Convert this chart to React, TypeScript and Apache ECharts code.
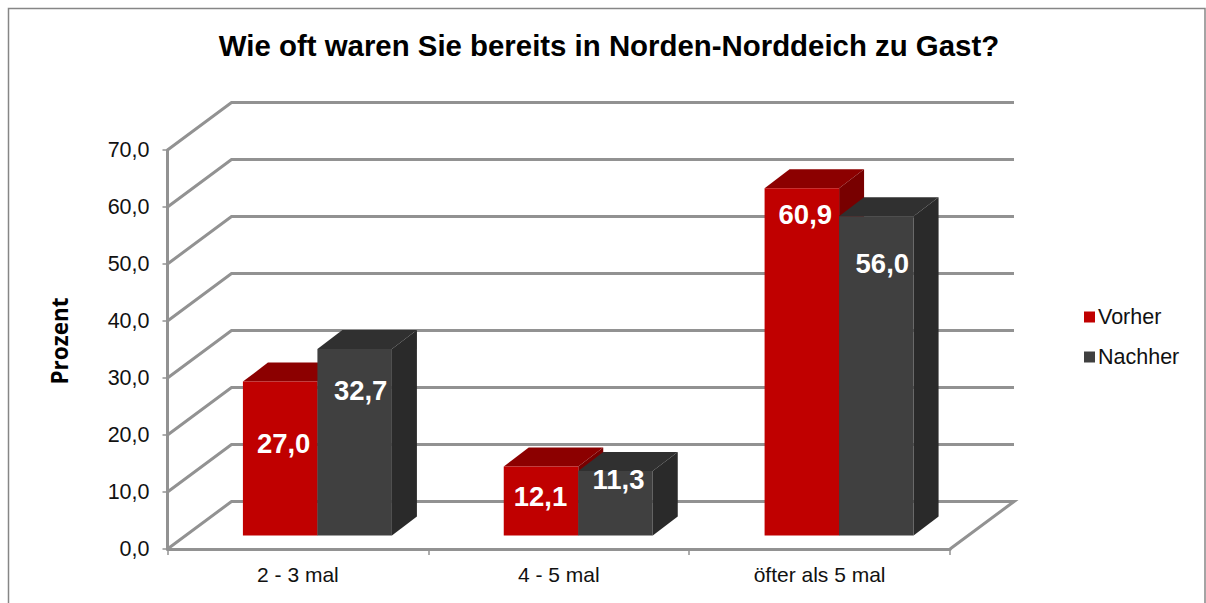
import React, { useEffect, useRef } from "react";
import * as echarts from "echarts";

const categories = ["2 - 3 mal", "4 - 5 mal", "öfter als 5 mal"];
const vorher = [27.0, 12.1, 60.9];
const nachher = [32.7, 11.3, 56.0];
const gridValues = [0, 10, 20, 30, 40, 50, 60, 70];

const vorherLabelOffset = [[3.5, 62], [-0.5, 30], [3.5, 26]];
const nachherLabelOffset = [[6, 41], [3, 8], [6, 47]];

const WALL = { dx: 64, dy: -47.5 };
const BAR_BASE = { dx: 19.5, dy: -13.5 };
const BAR_DEPTH = { dx: 25, dy: -19 };
const BAR_W = 74.5;
const GRID_COLOR = "#929292";
const fmt = (v: number) => v.toFixed(1).replace(".", ",");

function barRenderer(side: -1 | 1, colors: { front: string; top: string; side: string }, labelOffset: number[][]) {
  return (params: any, api: any) => {
    const i = api.value(0);
    const v = api.value(1);
    const top = api.coord([i, v]);
    const base = api.coord([i, 0]);
    const xc = top[0] + BAR_BASE.dx;
    const x0 = side < 0 ? xc - BAR_W : xc;
    const x1 = x0 + BAR_W;
    const yT = top[1] + BAR_BASE.dy;
    const yB = base[1] + BAR_BASE.dy;
    const { dx, dy } = BAR_DEPTH;
    const off = labelOffset[params.dataIndex];
    return {
      type: "group",
      children: [
        { type: "polygon", shape: { points: [[x0, yT], [x1, yT], [x1 + dx, yT + dy], [x0 + dx, yT + dy]] }, style: { fill: colors.top } },
        { type: "polygon", shape: { points: [[x1, yT], [x1 + dx, yT + dy], [x1 + dx, yB + dy], [x1, yB]] }, style: { fill: colors.side } },
        { type: "rect", shape: { x: x0, y: yT, width: BAR_W, height: yB - yT }, style: { fill: colors.front } },
        {
          type: "text",
          style: {
            x: (x0 + x1) / 2 + off[0],
            y: yT + off[1],
            text: fmt(v),
            fill: "#ffffff",
            font: "bold 27.5px 'Liberation Sans', Arial, sans-serif",
            align: "center",
            verticalAlign: "middle",
          },
        },
      ],
    };
  };
}

export default function App() {
  const ref = useRef<HTMLDivElement>(null);
  useEffect(() => {
    const chart = echarts.init(ref.current!, undefined, { renderer: "svg" });
    const textFont = "'Liberation Sans', Arial, sans-serif";
    chart.setOption({
      animation: false,
      backgroundColor: "#ffffff",
      title: {
        text: "Wie oft waren Sie bereits in Norden-Norddeich zu Gast?",
        left: 604,
        top: 26,
        textAlign: "center",
        textStyle: { fontFamily: textFont, fontWeight: "bold", fontSize: 29.4, color: "#000000" },
      },
      legend: {
        orient: "vertical",
        left: 1079,
        top: 301,
        itemGap: 18,
        itemWidth: 11,
        itemHeight: 11,
        icon: "rect",
        data: ["Vorher", "Nachher"],
        textStyle: { fontFamily: textFont, fontSize: 21.5, color: "#111111", padding: [0, 0, 0, -2] },
        selectedMode: false,
      },
      grid: { left: 167.5, top: 150, width: 782.5, height: 399 },
      xAxis: {
        type: "category",
        data: categories,
        axisLine: { lineStyle: { color: GRID_COLOR, width: 3 } },
        axisTick: { show: true, length: 6, lineStyle: { color: GRID_COLOR, width: 1.5 } },
        axisLabel: { fontFamily: textFont, fontSize: 21, color: "#111111", margin: 15 },
      },
      yAxis: {
        type: "value",
        min: 0,
        max: 70,
        interval: 10,
        splitLine: { show: false },
        axisLine: { show: true, lineStyle: { color: GRID_COLOR, width: 3 } },
        axisTick: { show: true, length: 5, lineStyle: { color: GRID_COLOR, width: 1.5 } },
        axisLabel: { fontFamily: textFont, fontSize: 21.5, color: "#111111", margin: 18, formatter: (v: number) => fmt(v) },
      },
      graphic: [
        { type: "rect", shape: { x: 8.5, y: 8.5, width: 1196.5, height: 700 }, style: { fill: "none", stroke: "#868686", lineWidth: 1.5 }, silent: true },
        {
          type: "text",
          x: 59,
          y: 341,
          rotation: Math.PI / 2,
          style: { text: "Prozent", fill: "#000000", font: "bold 22.5px 'Open Sans', sans-serif", align: "center", verticalAlign: "middle" },
        },
      ],
      series: [
        {
          type: "custom",
          name: "wall",
          clip: false,
          silent: true,
          z: 1,
          data: gridValues.map((v) => [0, v]),
          renderItem: (params: any, api: any) => {
            const v = api.value(1);
            const y = api.coord([0, v])[1];
            const { x, width } = params.coordSys;
            const bx = x + WALL.dx;
            const by = y + WALL.dy;
            const pts: number[][] = [[x, y], [bx, by], [bx + width, by]];
            if (v === 0) pts.push([x + width, y]);
            return {
              type: "polyline",
              shape: { points: pts },
              style: { fill: "none", stroke: GRID_COLOR, lineWidth: 3 },
            };
          },
        },
        {
          type: "custom",
          name: "Vorher",
          clip: false,
          z: 3,
          itemStyle: { color: "#c00000" },
          data: vorher.map((v, i) => [i, v]),
          renderItem: barRenderer(-1, { front: "#c00000", top: "#8c0000", side: "#780000" }, vorherLabelOffset),
        },
        {
          type: "custom",
          name: "Nachher",
          clip: false,
          z: 4,
          itemStyle: { color: "#404040" },
          data: nachher.map((v, i) => [i, v]),
          renderItem: barRenderer(1, { front: "#404040", top: "#303030", side: "#2a2a2a" }, nachherLabelOffset),
        },
      ],
    });
    return () => chart.dispose();
  }, []);
  return <div ref={ref} style={{ position: "fixed", left: 0, top: 0, width: 1206, height: 603 }} />;
}
